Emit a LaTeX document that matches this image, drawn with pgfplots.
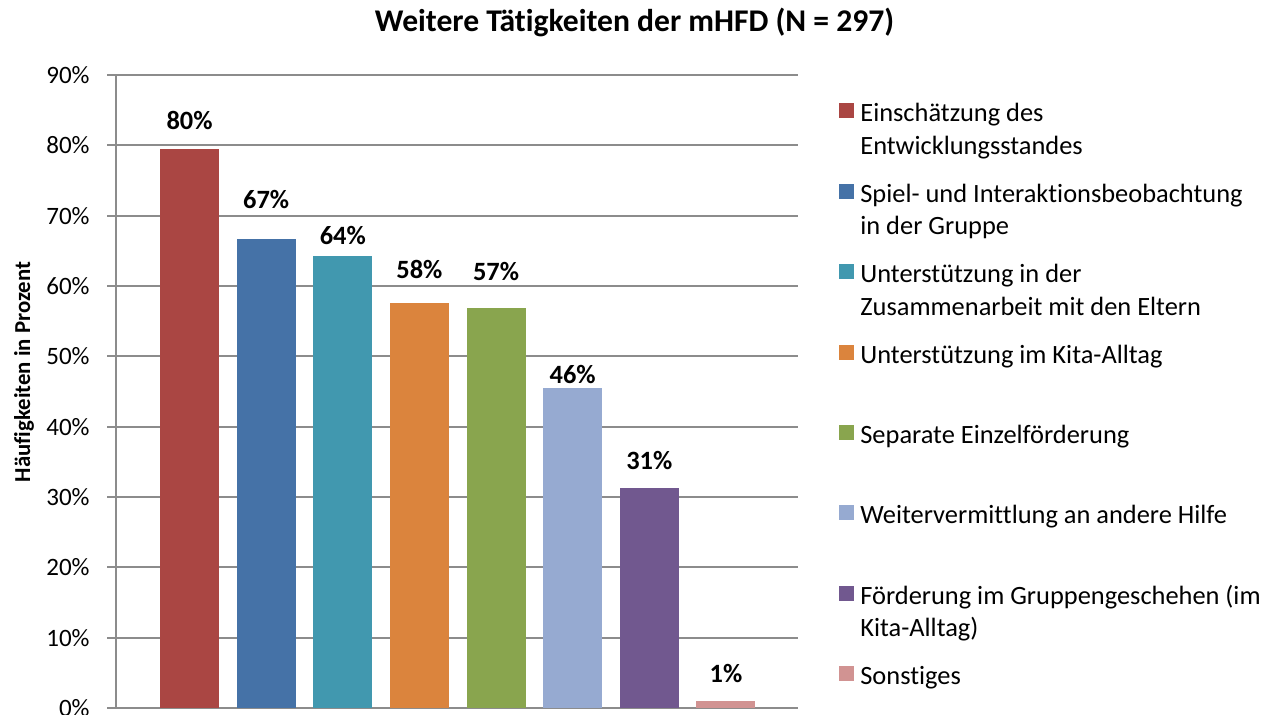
\documentclass[border=0pt]{standalone}
\usepackage{fontspec}
\setmainfont{Carlito}[Ligatures=NoCommon]
\usepackage{pgfplots}
\pgfplotsset{compat=1.18}
\definecolor{cA}{HTML}{AA4643}
\definecolor{cB}{HTML}{4572A7}
\definecolor{cC}{HTML}{4198AF}
\definecolor{cD}{HTML}{DB843D}
\definecolor{cE}{HTML}{89A54E}
\definecolor{cF}{HTML}{96AAD1}
\definecolor{cG}{HTML}{71588F}
\definecolor{cH}{HTML}{D19392}
\definecolor{gridgray}{HTML}{8C8C8C}
\begin{document}
\begin{tikzpicture}
\useasboundingbox (0,0) rectangle (640pt,357.5pt);
\begin{axis}[
  at={(58pt,3.5pt)}, anchor=south west,
  scale only axis, width=341pt, height=316.5pt,
  xmin=-0.96, xmax=7.94, ymin=0, ymax=90,
  ytick={0,10,...,90},
  yticklabels={0\%,10\%,20\%,30\%,40\%,50\%,60\%,70\%,80\%,90\%},
  xtick=\empty,
  axis lines*=left,
  axis line style={draw=gridgray, line width=1pt},
  ymajorgrids, grid style={draw=gridgray, line width=1pt},
  tick align=outside, major tick length=4.5pt,
  tick style={draw=gridgray, line width=1pt},
  yticklabel style={font=\fontsize{12.5}{14}\selectfont, anchor=east, inner sep=0pt, xshift=-8.5pt},
  ybar, bar width=29.5pt, bar shift=0pt,
  point meta=explicit symbolic,
  nodes near coords,
  every node near coord/.append style={font=\bfseries\fontsize{13.2}{15}\selectfont, anchor=base, inner sep=0pt},
  legend cell align=left,
  legend image code/.code={\fill[#1] (0pt,4.89pt) rectangle (7.5pt,12.39pt);},
  legend style={at={(1.0601,0.9801)}, anchor=north west, draw=none, fill=none,
    inner sep=0pt, column sep=1pt, row sep=0pt,
    cells={anchor=west, align=left, inner sep=0pt, minimum height=40.2pt,
      font=\fontsize{13.2}{16.35}\selectfont}},
]
\addplot[fill=cA, draw=none, every node near coord/.append style={yshift=9.75pt}] coordinates {(0,79.5) [80\%]};
\addlegendentry{{\strut Einschätzung des\\\strut Entwicklungsstandes}}
\addplot[fill=cB, draw=none, every node near coord/.append style={yshift=15.35pt}] coordinates {(1,66.7) [67\%]};
\addlegendentry{{\strut Spiel- und Interaktionsbeobachtung\\\strut in der Gruppe}}
\addplot[fill=cC, draw=none, every node near coord/.append style={yshift=5.5pt}] coordinates {(2,64.3) [64\%]};
\addlegendentry{{\strut Unterstützung in der\\\strut Zusammenarbeit mit den Eltern}}
\addplot[fill=cD, draw=none, every node near coord/.append style={yshift=12.2pt}] coordinates {(3,57.6) [58\%]};
\addlegendentry{{\strut Unterstützung im Kita-Alltag\\\strut}}
\addplot[fill=cE, draw=none, every node near coord/.append style={yshift=13.5pt}] coordinates {(4,56.9) [57\%]};
\addlegendentry{{\strut Separate Einzelförderung\\\strut}}
\addplot[fill=cF, draw=none, every node near coord/.append style={yshift=2.2pt}] coordinates {(5,45.5) [46\%]};
\addlegendentry{{\strut Weitervermittlung an andere Hilfe\\\strut}}
\addplot[fill=cG, draw=none, every node near coord/.append style={yshift=9.35pt}] coordinates {(6,31.3) [31\%]};
\addlegendentry{{\strut Förderung im Gruppengeschehen (im\\\strut Kita-Alltag)}}
\addplot[fill=cH, draw=none, every node near coord/.append style={yshift=9pt}] coordinates {(7,1.0) [1\%]};
\addlegendentry{{\strut Sonstiges\\\strut}}
\end{axis}
\node[anchor=base, font=\bfseries\fontsize{15.8}{18}\selectfont] at (317.25pt,341.6pt) {Weitere Tätigkeiten der mHFD (N = 297)};
\node[anchor=base, rotate=90, font=\bfseries\fontsize{11.4}{14}\selectfont] at (15pt,171.5pt) {Häufigkeiten in Prozent};
\end{tikzpicture}
\end{document}
